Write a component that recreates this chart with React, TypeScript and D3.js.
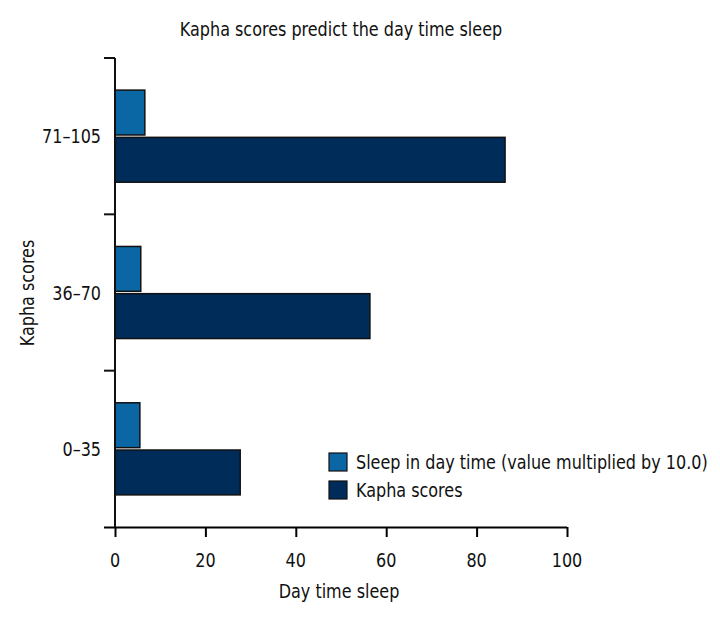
import React, { useEffect, useRef } from "react";
import * as d3 from "d3";

const categories = ["0–35", "36–70", "71–105"];
const seriesNames = ["Sleep in day time (value multiplied by 10.0)", "Kapha scores"];
const sleepValues = [5.5, 5.7, 6.6];
const kaphaValues = [27.7, 56.4, 86.3];
const xTicks = [0, 20, 40, 60, 80, 100];
const colors = ["#0a67a3", "#002c5a"];

const FONT = "'DejaVu Sans Condensed', 'DejaVu Sans', sans-serif";
const FS = 20;
const SQUEEZE = 0.89; // narrow the glyphs to look like a condensed face

const App = () => {
  const svgRef = useRef<SVGSVGElement>(null);

  useEffect(() => {
    const width = 720;
    const height = 624;
    const margin = { top: 58, right: 153, bottom: 97, left: 115 };

    const svg = d3.select(svgRef.current);
    svg.selectAll("*").remove();
    svg.attr("width", width).attr("height", height);

    // condensed text helper
    const label = (parent: any, tx: number, ty: number, str: string, anchor = "start", rot = 0) =>
      parent
        .append("text")
        .attr("transform", `translate(${tx},${ty}) rotate(${rot}) scale(${SQUEEZE},1)`)
        .attr("text-anchor", anchor)
        .attr("font-family", FONT)
        .attr("font-size", FS)
        .attr("fill", "#111")
        .text(str);

    const x = d3.scaleLinear().domain([0, 100]).range([margin.left, width - margin.right]);
    const y0 = d3
      .scaleBand()
      .domain(categories)
      .range([height - margin.bottom, margin.top])
      .padding(0);
    const y1 = d3
      .scaleBand()
      .domain(seriesNames)
      .range([0, y0.bandwidth()])
      .paddingInner(0.05)
      .paddingOuter(0.68);

    const rows = categories.map((c, i) => ({
      cat: c,
      values: [sleepValues[i], kaphaValues[i]],
    }));

    // bars
    const g = svg.append("g");
    rows.forEach((r) => {
      r.values.forEach((v, j) => {
        g.append("rect")
          .attr("x", x(0))
          .attr("y", (y0(r.cat) as number) + (y1(seriesNames[j]) as number))
          .attr("width", x(v) - x(0))
          .attr("height", y1.bandwidth())
          .attr("fill", colors[j])
          .attr("stroke", "#111")
          .attr("stroke-width", 1.5);
      });
    });

    // x axis
    const xAxis = svg
      .append("g")
      .attr("transform", `translate(0,${height - margin.bottom})`)
      .call(d3.axisBottom(x).tickValues(xTicks).tickSize(10).tickSizeOuter(0).tickFormat(() => ""));
    xAxis.select(".domain").attr("d", `M${margin.left - 11},0.5H${x(100)}`).attr("stroke-width", 2);
    xAxis.selectAll(".tick line").attr("stroke-width", 2);
    xTicks.forEach((t) => {
      label(xAxis, x(t), 40, String(t), "middle");
    });

    // y axis
    const yAxis = svg.append("g").attr("transform", `translate(${margin.left},0)`);
    yAxis
      .append("line")
      .attr("x1", 0)
      .attr("x2", 0)
      .attr("y1", margin.top)
      .attr("y2", height - margin.bottom)
      .attr("stroke", "#111")
      .attr("stroke-width", 2);
    const bounds = [margin.top, ...categories.map((c) => y0(c) as number)];
    bounds.forEach((b) => {
      yAxis
        .append("line")
        .attr("x1", -11)
        .attr("x2", 0)
        .attr("y1", b)
        .attr("y2", b)
        .attr("stroke", "#111")
        .attr("stroke-width", 2);
    });
    categories.forEach((c) => {
      label(yAxis, -14, (y0(c) as number) + y0.bandwidth() / 2 + 7, c, "end");
    });

    // titles
    label(svg, 341, 36, "Kapha scores predict the day time sleep", "middle");
    label(svg, 339, 598, "Day time sleep", "middle");
    label(svg, 34, 293, "Kapha scores", "middle", -90);

    // legend
    const legend = svg.append("g").attr("transform", "translate(329,453)");
    seriesNames.forEach((s, i) => {
      const row = legend.append("g").attr("transform", `translate(0,${i * 28})`);
      row
        .append("rect")
        .attr("width", 18)
        .attr("height", 18)
        .attr("fill", colors[i])
        .attr("stroke", "#111")
        .attr("stroke-width", 1.2);
      label(row, 27, 16, s);
    });
  }, []);

  return <svg ref={svgRef} style={{ position: "absolute", left: 0, top: 0 }}></svg>;
};

export default App;
